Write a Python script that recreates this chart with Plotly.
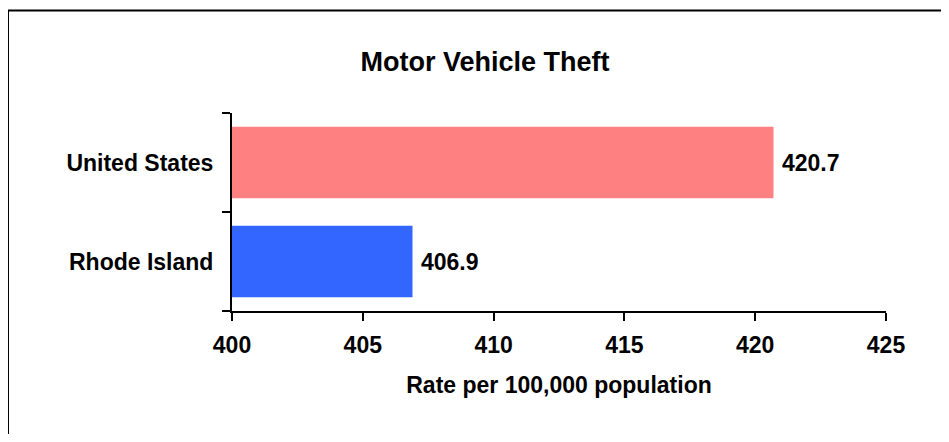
import plotly.graph_objects as go

# data
regions = ["Rhode Island", "United States"]
rates = [406.9, 420.7]
bar_colors = ["#3366FF", "#FF8080"]
tick_values = [400, 405, 410, 415, 420, 425]

OFF = 8  # page body margin shifts the figure by this much
W, H = 949 - 2 * OFF, 442 - 2 * OFF
# plot area in window pixels: x 232..886, y 113..311
L, R, T, B = 232 - OFF, (OFF + W) - 886, 113 - OFF, (OFF + H) - 311
pw, ph = W - L - R, H - T - B

FONT = "Liberation Sans, Arial, sans-serif"

fig = go.Figure(
    go.Bar(
        y=regions,
        x=rates,
        orientation="h",
        marker=dict(color=bar_colors, line=dict(width=0)),
        width=0.72,
        hoverinfo="skip",
    )
)

# value labels just past the end of each bar
for name, val in zip(regions, rates):
    fig.add_annotation(
        x=val, y=name, xref="x", yref="y",
        text=f"<b>{val:.1f}</b>", showarrow=False,
        xanchor="left", xshift=6,
        font=dict(family=FONT, size=23, color="black"),
    )


# outer chart frame: only its top and left edges fall inside the picture
def px_x(p):
    return (p - OFF - L) / pw


def px_y(p):
    return (H - B - (p - OFF)) / ph


frame = dict(color="black", width=2)
fig.add_shape(type="line", xref="paper", yref="paper",
              x0=px_x(8), x1=px_x(960), y0=px_y(10.5), y1=px_y(10.5), line=frame)
fig.add_shape(type="line", xref="paper", yref="paper",
              x0=px_x(8), x1=px_x(8), y0=px_y(10.5), y1=px_y(460), line=frame)

fig.update_layout(
    width=W, height=H,
    margin=dict(l=L, r=R, t=T, b=B),
    paper_bgcolor="white", plot_bgcolor="white",
    showlegend=False,
    font=dict(family=FONT, color="black"),
    title=dict(
        text="<b>Motor Vehicle Theft</b>",
        x=(485 - OFF) / W, xanchor="center", y=1 - (62 - OFF) / H, yanchor="middle",
        font=dict(family=FONT, size=27, color="black"),
    ),
)

fig.update_xaxes(
    range=[400, 425], tickvals=tick_values,
    ticktext=[f"<b>{v}</b>" for v in tick_values],
    showgrid=False, zeroline=False,
    showline=True, linecolor="black", linewidth=2,
    ticks="outside", ticklen=8, tickwidth=2, tickcolor="black",
    tickfont=dict(family=FONT, size=23, color="black"),
    ticklabelstandoff=4,
    title=dict(text="<b>Rate per 100,000 population</b>",
               font=dict(family=FONT, size=23, color="black"), standoff=20),
)

fig.update_yaxes(
    type="category", categoryorder="array", categoryarray=regions,
    tickvals=regions, ticktext=[f"<b>{r}</b>" for r in regions],
    tickson="boundaries",
    showgrid=False, zeroline=False,
    showline=True, linecolor="black", linewidth=2,
    ticks="outside", ticklen=8, tickwidth=2, tickcolor="black",
    tickfont=dict(family=FONT, size=23, color="black"),
    ticklabelstandoff=12,
)

fig.write_html("out.html")
